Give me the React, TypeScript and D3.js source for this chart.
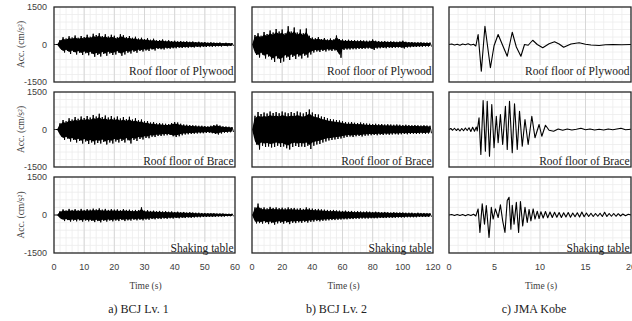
import { useEffect, useRef } from "react";
import * as d3 from "d3";

// Acceleration records (cm/s²). Dense records are stored as alternating peak
// envelopes (upper / lower peak per time step).
const A_STEP = 1; // s, BCJ Lv. 1
const B_STEP = 2; // s, BCJ Lv. 2

const A1_UP = [0, 0, 180, 290, 240, 330, 280, 360, 270, 340, 300, 390, 310, 430, 380, 450, 340, 410, 320, 390, 350, 290, 410, 370, 300, 340, 270, 310, 240, 270, 220, 250, 190, 230, 170, 180, 200, 150, 170, 140, 150, 130, 140, 120, 130, 110, 120, 100, 110, 90, 100, 80, 90, 80, 70, 80, 60, 70, 60, 60];
const A1_LO = [0, 0, -200, -320, -260, -380, -300, -400, -330, -420, -350, -430, -360, -490, -420, -480, -380, -450, -360, -420, -400, -330, -450, -400, -330, -360, -290, -330, -260, -280, -240, -260, -200, -240, -180, -190, -200, -160, -170, -150, -150, -130, -140, -120, -130, -110, -120, -100, -110, -90, -100, -80, -90, -80, -70, -80, -60, -70, -60, -60];

const A2_UP = [0, 0, 250, 380, 330, 450, 400, 500, 430, 520, 460, 540, 480, 580, 520, 630, 500, 560, 480, 540, 470, 520, 440, 500, 420, 510, 400, 450, 370, 400, 330, 340, 280, 300, 250, 260, 240, 230, 220, 260, 300, 280, 230, 200, 190, 180, 170, 160, 150, 150, 140, 130, 150, 180, 200, 160, 130, 120, 110, 100];
const A2_LO = [0, 0, -280, -420, -360, -480, -420, -520, -460, -560, -480, -580, -520, -600, -540, -560, -500, -600, -520, -560, -480, -520, -460, -520, -430, -560, -420, -460, -380, -400, -340, -350, -290, -300, -260, -260, -240, -230, -220, -270, -300, -270, -230, -200, -190, -180, -170, -160, -150, -150, -140, -130, -150, -180, -200, -160, -130, -120, -110, -100];

const A3_UP = [0, 0, 150, 220, 180, 240, 200, 230, 190, 240, 200, 230, 210, 250, 220, 260, 210, 240, 200, 230, 210, 220, 190, 230, 200, 210, 180, 200, 190, 300, 170, 190, 160, 170, 150, 160, 140, 150, 130, 140, 120, 130, 110, 120, 100, 110, 100, 90, 90, 80, 80, 70, 70, 70, 60, 60, 60, 50, 50, 50];
const A3_LO = [0, 0, -160, -240, -200, -260, -220, -250, -210, -260, -220, -250, -230, -280, -240, -290, -230, -260, -220, -250, -220, -240, -200, -240, -210, -220, -190, -210, -190, -210, -180, -190, -160, -170, -150, -160, -140, -150, -130, -140, -120, -130, -110, -120, -100, -110, -100, -90, -90, -80, -80, -70, -70, -70, -60, -60, -60, -50, -50, -50];

const B1_UP = [0, 380, 450, 350, 500, 420, 560, 480, 620, 520, 600, 450, 730, 520, 680, 480, 600, 450, 640, 350, 280, 250, 300, 220, 260, 200, 240, 200, 360, 220, 200, 180, 190, 170, 180, 160, 170, 160, 150, 150, 200, 150, 140, 130, 140, 120, 130, 120, 110, 120, 150, 110, 100, 100, 90, 90, 90, 80, 80, 80];
const B1_LO = [0, -420, -520, -400, -560, -480, -600, -700, -560, -730, -680, -520, -620, -500, -580, -480, -560, -450, -520, -400, -320, -280, -300, -260, -280, -240, -260, -240, -280, -530, -220, -200, -200, -190, -190, -180, -180, -170, -160, -160, -220, -160, -150, -140, -150, -130, -140, -130, -120, -120, -160, -120, -110, -100, -100, -90, -90, -80, -80, -80];

const B2_UP = [0, 550, 700, 620, 680, 640, 720, 660, 700, 650, 720, 680, 650, 700, 660, 720, 680, 640, 700, 800, 680, 620, 600, 520, 500, 450, 420, 400, 380, 360, 330, 300, 280, 300, 270, 260, 280, 250, 240, 230, 220, 230, 210, 220, 200, 210, 200, 190, 200, 190, 180, 190, 180, 170, 180, 170, 160, 170, 160, 150];
const B2_LO = [0, -600, -800, -650, -700, -680, -720, -700, -650, -700, -680, -750, -800, -700, -660, -700, -680, -700, -650, -780, -650, -600, -580, -520, -480, -440, -420, -400, -380, -360, -330, -300, -280, -300, -270, -260, -280, -250, -240, -230, -220, -230, -210, -220, -200, -210, -200, -190, -200, -190, -180, -190, -180, -170, -180, -170, -160, -170, -160, -150];

const B3_UP = [0, 300, 450, 280, 300, 260, 320, 280, 300, 270, 290, 260, 300, 270, 280, 250, 270, 240, 300, 260, 250, 230, 240, 220, 210, 200, 190, 200, 180, 170, 160, 170, 150, 160, 140, 150, 140, 130, 140, 130, 120, 130, 120, 110, 120, 110, 100, 110, 100, 100, 100, 90, 90, 90, 80, 90, 80, 80, 70, 70];
const B3_LO = [0, -330, -320, -340, -300, -360, -320, -380, -330, -310, -340, -300, -360, -310, -320, -290, -310, -280, -300, -270, -260, -240, -250, -230, -220, -210, -200, -200, -190, -180, -170, -170, -160, -160, -150, -150, -140, -140, -140, -130, -130, -130, -120, -120, -120, -110, -110, -110, -100, -100, -100, -90, -90, -90, -90, -80, -80, -80, -70, -70];

// JMA Kobe: [time (s), acc] peaks
const C1: [number, number][] = [[0, 0], [0.3, 20], [0.6, -20], [0.9, 10], [1.2, -30], [1.5, 20], [1.8, -10], [2.1, 30], [2.4, -20], [2.7, 10], [2.95, -60], [3.2, 400], [3.55, -1070], [3.95, 730], [4.55, -930], [4.95, -50], [5.4, 400], [5.8, 50], [6.4, -470], [6.95, 490], [7.4, -100], [7.9, -470], [8.3, 0], [8.7, -30], [9.2, 170], [9.7, 0], [10.3, -130], [11.0, 30], [11.6, 110], [12.1, 20], [12.6, -110], [13.4, 20], [14.3, 70], [15.0, 10], [15.6, -20], [16.5, -40], [17.2, -10], [18, 0], [19, -10], [20, 0]];
const C2: [number, number][] = [[0, 0], [0.2, 40], [0.4, -30], [0.6, 50], [0.8, -40], [1.0, 30], [1.2, -60], [1.4, 40], [1.6, -50], [1.8, 60], [2.0, -40], [2.2, 70], [2.4, -80], [2.6, 90], [2.8, -70], [3.0, 100], [3.1, -60], [3.3, 470], [3.5, -1000], [3.75, 1160], [4.0, -870], [4.2, 1130], [4.45, -1070], [4.7, 1000], [4.95, -730], [5.2, 530], [5.4, -530], [5.65, 600], [5.9, -600], [6.2, 930], [6.4, -800], [6.65, 1130], [6.95, -930], [7.2, 1030], [7.5, -800], [7.75, 730], [8.05, -670], [8.35, 400], [8.7, -600], [9.1, 530], [9.45, -330], [9.9, 200], [10.2, -270], [10.6, 170], [11.0, -30], [11.5, -70], [12.0, 20], [12.5, -30], [13.0, 20], [13.5, -20], [14.0, 10], [14.5, 50], [15.0, -10], [15.5, 20], [16, -20], [16.5, 10], [17, -20], [17.5, 20], [18, -10], [18.9, 50], [19.4, -10], [20, 10]];
const C3: [number, number][] = [[0, 0], [0.3, 20], [0.6, -20], [0.9, 20], [1.2, -20], [1.5, 20], [1.8, -30], [2.1, 20], [2.4, -20], [2.7, 30], [2.95, -40], [3.2, 240], [3.4, -690], [3.65, 440], [3.9, -360], [4.1, 370], [4.4, -890], [4.65, 300], [4.85, -160], [5.1, 240], [5.4, -100], [5.65, 400], [5.9, -230], [6.15, -690], [6.4, 570], [6.6, 700], [6.8, -560], [6.95, 380], [7.15, -360], [7.4, 500], [7.65, -690], [7.85, 530], [8.1, -430], [8.35, 300], [8.6, -290], [8.8, 220], [9.0, -230], [9.25, 240], [9.45, -160], [9.7, 150], [9.9, -140], [10.1, 130], [10.35, -120], [10.6, 140], [10.85, -110], [11.1, 120], [11.35, -100], [11.6, 110], [11.85, -90], [12.1, 100], [12.35, -100], [12.6, 90], [12.85, -80], [13.1, 100], [13.35, -90], [13.6, 80], [13.85, -70], [14.1, 90], [14.35, -80], [14.6, 120], [14.85, -70], [15.1, 80], [15.35, -60], [15.6, 70], [15.85, -60], [16.1, 60], [16.35, -50], [16.6, 70], [16.85, -60], [17.1, 110], [17.35, -60], [17.6, 60], [17.85, -50], [18.1, 60], [18.35, -50], [18.6, 50], [18.85, -40], [19.1, 40], [19.4, -30], [19.7, 30], [20, 0]];

const ROW_LABELS = ["Roof floor of Plywood", "Roof floor of Brace", "Shaking table"];
const CAPTIONS = ["a) BCJ Lv. 1", "b) BCJ Lv. 2", "c) JMA Kobe"];
const X_TICKS = [
  [0, 10, 20, 30, 40, 50, 60],
  [0, 20, 40, 60, 80, 100, 120],
  [0, 5, 10, 15, 20],
];
const Y_TICKS = [1500, 0, -1500];

const W = 632;
const H = 321;
const COLS = [
  { x0: 54, x1: 235, max: 60, major: 10, minor: 2 },
  { x0: 252, x1: 433, max: 120, major: 20, minor: 4 },
  { x0: 449, x1: 631, max: 20, major: 5, minor: 1 },
];
const ROWS = [
  { y0: 7, y1: 82, labelY: 75 },
  { y0: 92, y1: 167, labelY: 165 },
  { y0: 177, y1: 253, labelY: 252 },
];
const SERIF = "'Liberation Serif', 'Times New Roman', serif";
const SANS = "'Liberation Sans', Arial, sans-serif";

type Dense = { up: number[]; lo: number[]; step: number };
type Peaks = [number, number][];

const SERIES: (Dense | Peaks)[][] = [
  [{ up: A1_UP, lo: A1_LO, step: A_STEP }, { up: B1_UP, lo: B1_LO, step: B_STEP }, C1],
  [{ up: A2_UP, lo: A2_LO, step: A_STEP }, { up: B2_UP, lo: B2_LO, step: B_STEP }, C2],
  [{ up: A3_UP, lo: A3_LO, step: A_STEP }, { up: B3_UP, lo: B3_LO, step: B_STEP }, C3],
];

export default function App() {
  const svgRef = useRef<SVGSVGElement | null>(null);

  useEffect(() => {
    const svg = d3.select(svgRef.current);
    svg.selectAll("*").remove();
    svg.append("rect").attr("width", W).attr("height", H).attr("fill", "#fff");

    COLS.forEach((c, ci) => {
      const x = d3.scaleLinear().domain([0, c.max]).range([c.x0, c.x1]);

      ROWS.forEach((r, ri) => {
        const y = d3.scaleLinear().domain([-1500, 1500]).range([r.y1, r.y0]);
        const g = svg.append("g");

        // minor grid
        g.append("g")
          .selectAll("line")
          .data(d3.range(c.minor, c.max, c.minor))
          .join("line")
          .attr("x1", (d) => x(d))
          .attr("x2", (d) => x(d))
          .attr("y1", r.y0)
          .attr("y2", r.y1)
          .attr("stroke", "#ececec")
          .attr("stroke-width", 0.8);
        g.append("g")
          .selectAll("line")
          .data(d3.range(-1200, 1500, 300))
          .join("line")
          .attr("x1", c.x0)
          .attr("x2", c.x1)
          .attr("y1", (d) => y(d))
          .attr("y2", (d) => y(d))
          .attr("stroke", "#ececec")
          .attr("stroke-width", 0.8);
        // major grid
        g.append("g")
          .selectAll("line")
          .data(d3.range(c.major, c.max, c.major))
          .join("line")
          .attr("x1", (d) => x(d))
          .attr("x2", (d) => x(d))
          .attr("y1", r.y0)
          .attr("y2", r.y1)
          .attr("stroke", "#d4d4d4")
          .attr("stroke-width", 0.9);

        // signal
        const s = SERIES[ri][ci];
        if (Array.isArray(s)) {
          const line = d3
            .line<[number, number]>()
            .x((d) => x(d[0]))
            .y((d) => y(d[1]));
          g.append("path")
            .datum(s)
            .attr("d", line)
            .attr("fill", "none")
            .attr("stroke", "#000")
            .attr("stroke-width", 1.1)
            .attr("stroke-linejoin", "round");
        } else {
          const idx = d3.range(s.up.length);
          // solid envelope body
          const area = d3
            .area<number>()
            .x((i) => x(i * s.step))
            .y0((i) => y(s.lo[i] * 0.8))
            .y1((i) => y(s.up[i] * 0.8));
          g.append("path").datum(idx).attr("d", area).attr("fill", "#000");
          // alternating peaks on top
          const zig = d3
            .line<number>()
            .x((k) => x((k >> 1) * s.step + (k & 1) * s.step * 0.5))
            .y((k) => y(k & 1 ? s.lo[k >> 1] : s.up[k >> 1]));
          g.append("path")
            .datum(d3.range(s.up.length * 2))
            .attr("d", zig)
            .attr("fill", "none")
            .attr("stroke", "#000")
            .attr("stroke-width", 1);
        }

        // panel label with white box
        const lab = g
          .append("text")
          .attr("x", c.x1 - 1.5)
          .attr("y", r.labelY)
          .attr("text-anchor", "end")
          .attr("font-family", SERIF)
          .attr("font-size", 11.5)
          .attr("fill", "#222")
          .text(ROW_LABELS[ri]);
        const bb = (lab.node() as SVGTextElement).getBBox();
        g.insert("rect", "text")
          .attr("x", bb.x - 1)
          .attr("y", bb.y)
          .attr("width", bb.width + 1)
          .attr("height", Math.min(bb.height, r.y1 - bb.y))
          .attr("fill", "#fff");

        // frame
        g.append("rect")
          .attr("x", c.x0)
          .attr("y", r.y0)
          .attr("width", c.x1 - c.x0)
          .attr("height", r.y1 - r.y0)
          .attr("fill", "none")
          .attr("stroke", "#262626")
          .attr("stroke-width", 1.3);

        if (ci === 0) {
          g.append("g")
            .selectAll("text")
            .data(Y_TICKS)
            .join("text")
            .attr("x", c.x0 - 7)
            .attr("y", (d) => y(d))
            .attr("dy", "0.35em")
            .attr("text-anchor", "end")
            .attr("font-family", SANS)
            .attr("font-size", 9)
            .attr("fill", "#404040")
            .text((d) => d);
          g.append("text")
            .attr("transform", `translate(21,${(r.y0 + r.y1) / 2}) rotate(-90)`)
            .attr("text-anchor", "middle")
            .attr("dy", "0.35em")
            .attr("font-family", SERIF)
            .attr("font-size", 9.5)
            .attr("fill", "#404040")
            .text("Acc. (cm/s²)");
        }

        if (ri === ROWS.length - 1) {
          g.append("g")
            .selectAll("text")
            .data(X_TICKS[ci])
            .join("text")
            .attr("x", (d) => x(d))
            .attr("y", 270)
            .attr("text-anchor", "middle")
            .attr("font-family", SANS)
            .attr("font-size", 9)
            .attr("fill", "#404040")
            .text((d) => d);
        }
      });

      const cx = (c.x0 + c.x1) / 2;
      svg
        .append("text")
        .attr("x", cx + 1)
        .attr("y", 289)
        .attr("text-anchor", "middle")
        .attr("font-family", SERIF)
        .attr("font-size", 9.5)
        .attr("fill", "#404040")
        .text("Time (s)");
      svg
        .append("text")
        .attr("x", cx - 6)
        .attr("y", 313)
        .attr("text-anchor", "middle")
        .attr("font-family", SERIF)
        .attr("font-size", 12)
        .attr("fill", "#222")
        .text(CAPTIONS[ci]);
    });
  }, []);

  return (
    <svg
      ref={svgRef}
      width={W}
      height={H}
      style={{ position: "absolute", left: 0, top: 0, display: "block" }}
    />
  );
}
